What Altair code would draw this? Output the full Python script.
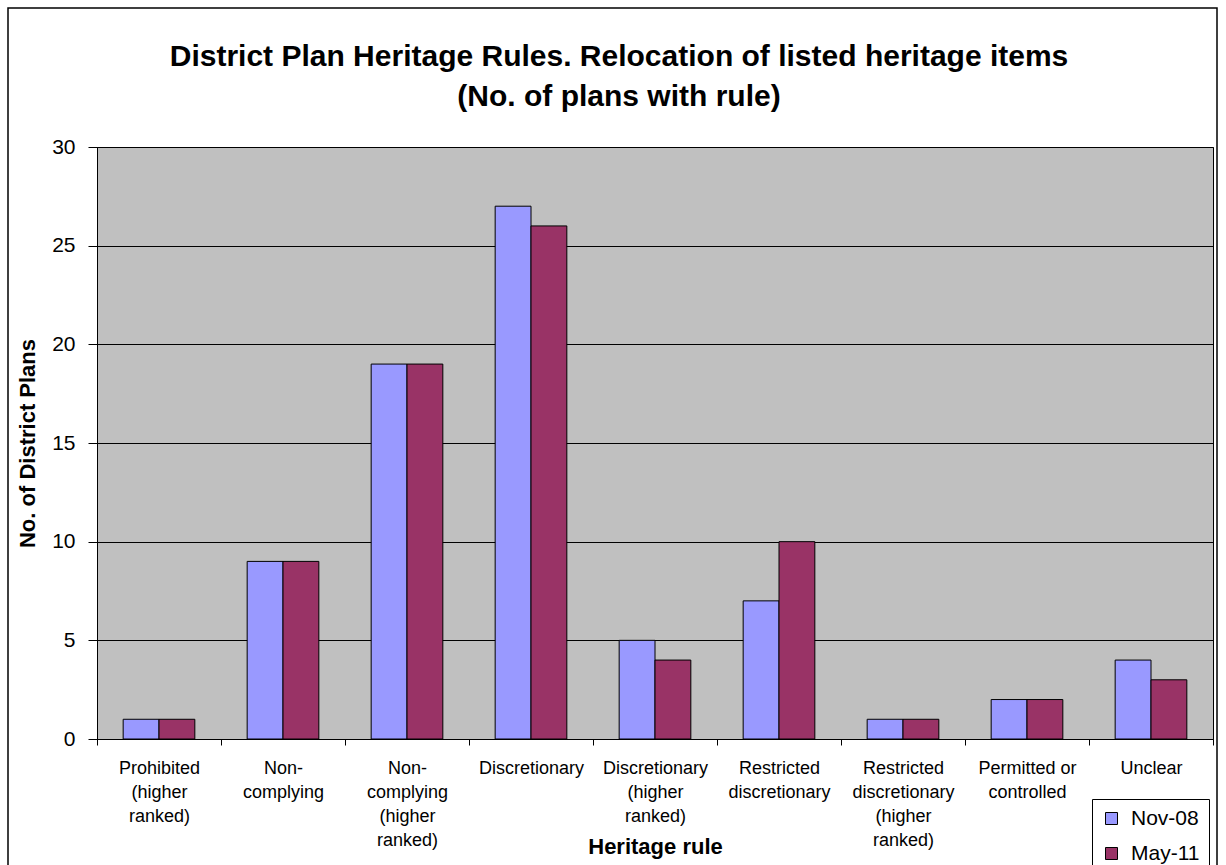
import altair as alt
import pandas as pd

# ---- data ----
categories = [
    "Prohibited|(higher|ranked)",
    "Non-|complying",
    "Non-|complying|(higher|ranked)",
    "Discretionary",
    "Discretionary|(higher|ranked)",
    "Restricted|discretionary",
    "Restricted|discretionary|(higher|ranked)",
    "Permitted or|controlled",
    "Unclear",
]
series = ["Nov-08", "May-11"]
nov08 = [1, 9, 19, 27, 5, 7, 1, 2, 4]
may11 = [1, 9, 19, 26, 4, 10, 1, 2, 3]
y_ticks = [0, 5, 10, 15, 20, 25, 30]
colors = ["#9999FF", "#993366"]

title_lines = [
    "District Plan Heritage Rules. Relocation of listed heritage items",
    "(No. of plans with rule)",
]

rows = []
for c, a, b in zip(categories, nov08, may11):
    rows.append({"rule": c, "series": series[0], "count": a})
    rows.append({"rule": c, "series": series[1], "count": b})
df = pd.DataFrame(rows)

FONT = "Liberation Sans"

bars = alt.Chart(df).mark_bar(stroke="black", strokeWidth=1).encode(
    x=alt.X(
        "rule:N",
        sort=categories,
        scale=alt.Scale(paddingInner=0, paddingOuter=0),
        axis=alt.Axis(
            title="Heritage rule",
            titleFont=FONT,
            titleFontSize=22,
            titleFontWeight="bold",
            titleColor="black",
            titleY=114,
            titleBaseline="alphabetic",
            labelExpr="split(datum.label, '|')",
            labelFont=FONT,
            labelFontSize=18,
            labelLineHeight=24,
            labelColor="black",
            labelAngle=0,
            labelPadding=14,
            labelLimit=0,
            tickBand="extent",
            tickSize=6,
            tickColor="black",
            domainColor="black",
            grid=False,
        ),
    ),
    xOffset=alt.XOffset(
        "series:N",
        sort=series,
        scale=alt.Scale(paddingInner=0, paddingOuter=0.73),
    ),
    y=alt.Y(
        "count:Q",
        scale=alt.Scale(domain=[0, 30], nice=False),
        axis=alt.Axis(
            title="No. of District Plans",
            titleFont=FONT,
            titleFontSize=22,
            titleFontWeight="bold",
            titleColor="black",
            titleX=-70,
            titleY=296,
            titleAlign="center",
            titleBaseline="middle",
            values=y_ticks,
            labelFont=FONT,
            labelFontSize=21,
            labelColor="black",
            labelPadding=13,
            tickSize=9,
            tickColor="black",
            domainColor="black",
            grid=True,
            gridColor="black",
            gridWidth=1,
        ),
    ),
    color=alt.Color(
        "series:N",
        sort=series,
        scale=alt.Scale(domain=series, range=colors),
        legend=alt.Legend(
            title=None,
            orient="none",
            legendX=995,
            legendY=652,
            direction="vertical",
            symbolType="square",
            symbolSize=144,
            symbolStrokeColor="black",
            symbolStrokeWidth=1,
            labelFont=FONT,
            labelFontSize=21,
            labelColor="black",
            labelOffset=9,
            rowPadding=13,
            padding=9,
            strokeColor="black",
            fillColor="white",
        ),
    ),
)

title = alt.Chart(alt.Data(values=[{"k": 1}])).mark_text(
    text=title_lines,
    font=FONT,
    fontSize=30,
    fontWeight="bold",
    color="black",
    lineHeight=40,
    align="center",
    baseline="alphabetic",
).encode(
    x=alt.value(522),
    y=alt.value(-81),
)

border = alt.Chart(alt.Data(values=[{"k": 1}])).mark_rect(
    fill="transparent", fillOpacity=0, stroke="black", strokeWidth=1.5
).encode(
    x=alt.value(-89),
    x2=alt.value(1120),
    y=alt.value(-139),
    y2=alt.value(760),
)

chart = alt.layer(bars, title, border).properties(
    width=1116,
    height=592,
    background="white",
    autosize=alt.AutoSizeParams(type="none"),
    padding={"left": 97, "top": 147, "right": 13, "bottom": 126},
).configure_view(
    fill="#C0C0C0", stroke="black", strokeWidth=1
)

chart.save("out.html", embed_options={"renderer": "svg", "actions": False})
